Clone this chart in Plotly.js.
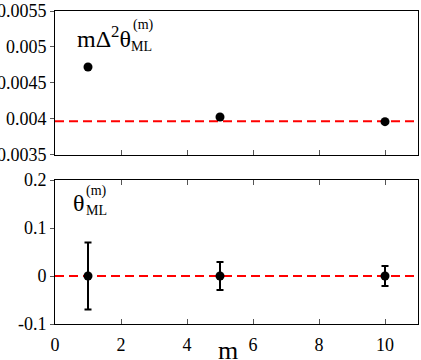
<!DOCTYPE html>
<html>
<head>
<meta charset="utf-8">
<script src="https://cdn.plot.ly/plotly-3.0.1.min.js"></script>
<style>html,body{margin:0;padding:0;background:#fff;}#chart{width:421px;height:360px;}</style>
</head>
<body>
<div id="chart"></div>
<script>
// Data
const mValues = [1, 5, 10];
const varianceValues = [0.004722, 0.004028, 0.003963];
const varianceReference = 0.00397;
const thetaValues = [0, 0, 0];
const thetaErrors = [0.07, 0.029, 0.021];
const thetaReference = 0;
const topTickVals = [0.0035, 0.004, 0.0045, 0.005, 0.0055];
const topTickText = ['0.0035', '0.004', '0.0045', '0.005', '0.0055'];
const bottomTickVals = [-0.1, 0, 0.1, 0.2];
const bottomTickText = ['-0.1', '0', '0.1', '0.2'];
const xTickVals = [0, 2, 4, 6, 8, 10];
const xTickText = ['0', '2', '4', '6', '8', '10'];

const FONT = 'Liberation Serif';

function tf() { return {family: FONT, size: 18, color: 'black'}; }

function axis(extra) {
  return Object.assign({
    showgrid: false, zeroline: false, showline: true, linecolor: 'black', linewidth: 1,
    tickcolor: '#555', tickwidth: 1, ticklen: 5, tickfont: tf()
  }, extra);
}

const traces = [
  {
    x: mValues, y: varianceValues, type: 'scatter', mode: 'markers',
    xaxis: 'x', yaxis: 'y',
    marker: {color: 'black', size: 9},
    showlegend: false, hoverinfo: 'skip'
  },
  {
    x: mValues, y: thetaValues, type: 'scatter', mode: 'markers',
    xaxis: 'x2', yaxis: 'y2',
    marker: {color: 'black', size: 9},
    error_y: {type: 'data', array: thetaErrors, visible: true, color: 'black', thickness: 2, width: 3.5},
    showlegend: false, hoverinfo: 'skip'
  }
];

const layout = {
  width: 421, height: 360,
  margin: {l: 55, r: 3, t: 11, b: 36},
  paper_bgcolor: 'white', plot_bgcolor: 'white',
  font: {family: FONT, size: 18, color: 'black'},
  xaxis: axis({
    domain: [0, 1], anchor: 'y', range: [0, 11],
    tickvals: xTickVals, ticktext: xTickText, ticks: 'inside',
    showticklabels: false, mirror: true
  }),
  yaxis: axis({
    domain: [0.54, 1], anchor: 'x', range: [0.0035, 0.0055],
    tickvals: topTickVals, ticktext: topTickText, ticks: 'outside', ticklen: 4, mirror: true
  }),
  xaxis2: axis({
    domain: [0, 1], anchor: 'y2', range: [0, 11],
    tickvals: xTickVals, ticktext: xTickText, ticks: 'inside', mirror: 'ticks',
    ticklabelstandoff: 4
  }),
  yaxis2: axis({
    domain: [0, 0.46], anchor: 'x2', range: [-0.1, 0.2],
    tickvals: bottomTickVals, ticktext: bottomTickText, ticks: 'outside', ticklen: 4, mirror: true
  }),
  shapes: [
    {type: 'line', xref: 'x domain', yref: 'y', x0: 0, x1: 1, y0: varianceReference, y1: varianceReference,
     line: {color: 'red', width: 2, dash: '9px,5px'}, layer: 'below'},
    {type: 'line', xref: 'x2 domain', yref: 'y2', x0: 0, x1: 1, y0: thetaReference, y1: thetaReference,
     line: {color: 'red', width: 2, dash: '9px,5px'}, layer: 'below'}
  ],
  annotations: [
    {xref: 'paper', yref: 'paper', x: 0.477, y: -0.086, xanchor: 'center', yanchor: 'middle', showarrow: false,
     text: 'm', font: {family: FONT, size: 26, color: 'black'}},
    {xref: 'paper', yref: 'paper', x: 0.055, y: 0.917, xanchor: 'left', yanchor: 'middle', showarrow: false,
     text: 'mΔ<sup>2</sup>θ', font: {family: FONT, size: 24, color: 'black'}},
    {xref: 'paper', yref: 'paper', x: 0.208, y: 0.955, xanchor: 'left', yanchor: 'middle', showarrow: false,
     text: '(m)', font: {family: FONT, size: 14, color: 'black'}},
    {xref: 'paper', yref: 'paper', x: 0.205, y: 0.885, xanchor: 'left', yanchor: 'middle', showarrow: false,
     text: 'ML', font: {family: FONT, size: 14, color: 'black'}},
    {xref: 'paper', yref: 'paper', x: 0.044, y: 0.387, xanchor: 'left', yanchor: 'middle', showarrow: false,
     text: 'θ', font: {family: FONT, size: 24, color: 'black'}},
    {xref: 'paper', yref: 'paper', x: 0.080, y: 0.426, xanchor: 'left', yanchor: 'middle', showarrow: false,
     text: '(m)', font: {family: FONT, size: 14, color: 'black'}},
    {xref: 'paper', yref: 'paper', x: 0.080, y: 0.362, xanchor: 'left', yanchor: 'middle', showarrow: false,
     text: 'ML', font: {family: FONT, size: 14, color: 'black'}}
  ]
};

Plotly.newPlot('chart', traces, layout, {staticPlot: true, displayModeBar: false});
</script>
</body>
</html>
